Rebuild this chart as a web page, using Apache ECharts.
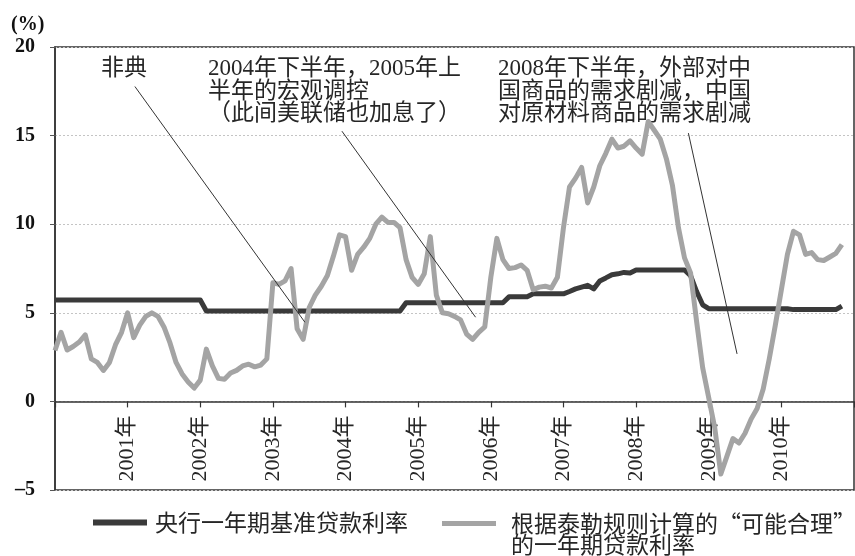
<!DOCTYPE html>
<html><head><meta charset="utf-8">
<script src="https://cdn.jsdelivr.net/npm/echarts@6/dist/echarts.min.js"></script>
<style>html,body{margin:0;padding:0;background:#fff}#c{width:855px;height:556px}</style>
</head><body><div id="c"></div>
<script>
// ---- data (monthly, starting 2000-01) ----
const startYear = 2000;
const seriesNames = ['央行一年期基准贷款利率', '根据泰勒规则计算的“可能合理”\n的一年期贷款利率'];
const pbocRate = [
 5.72,5.72,5.72,5.72,5.72,5.72,5.72,5.72,5.72,5.72,
 5.72,5.72,5.72,5.72,5.72,5.72,5.72,5.72,5.72,5.72,
 5.72,5.72,5.72,5.72,5.72,5.1,5.1,5.1,5.1,5.1,
 5.1,5.1,5.1,5.1,5.1,5.1,5.1,5.1,5.1,5.1,
 5.1,5.1,5.1,5.1,5.1,5.1,5.1,5.1,5.1,5.1,
 5.1,5.1,5.1,5.1,5.1,5.1,5.1,5.1,5.57,5.57,
 5.57,5.57,5.57,5.57,5.57,5.57,5.57,5.57,5.57,5.57,
 5.57,5.57,5.57,5.57,5.57,5.9,5.9,5.9,5.9,6.07,
 6.07,6.07,6.07,6.07,6.07,6.2,6.35,6.45,6.55,6.35,
 6.8,6.97,7.15,7.2,7.28,7.25,7.42,7.42,7.42,7.42,
 7.42,7.42,7.42,7.42,7.42,7.1,6.2,5.45,5.23,5.23,
 5.23,5.23,5.23,5.23,5.23,5.23,5.23,5.23,5.23,5.23,
 5.23,5.23,5.18,5.18,5.18,5.18,5.18,5.18,5.18,5.18,
 5.38
];
const taylorRate = [
 2.87,3.9,2.9,3.1,3.35,3.75,2.4,2.2,1.75,2.2,
 3.2,3.9,5.0,3.6,4.3,4.8,5.0,4.8,4.2,3.3,
 2.2,1.55,1.1,0.75,1.2,2.95,2.0,1.3,1.25,1.6,
 1.75,2.0,2.1,1.95,2.05,2.4,6.7,6.6,6.8,7.5,
 4.1,3.5,5.3,6.0,6.5,7.1,8.2,9.4,9.3,7.4,
 8.3,8.7,9.2,10.0,10.4,10.1,10.1,9.8,8.0,7.0,
 6.6,7.2,9.3,6.0,5.0,4.95,4.8,4.6,3.8,3.5,
 3.9,4.2,7.0,9.2,8.0,7.5,7.55,7.7,7.4,6.3,
 6.45,6.5,6.4,7.0,9.8,12.1,12.6,13.2,11.2,12.1,
 13.3,14.0,14.8,14.3,14.4,14.7,14.3,13.95,15.8,15.3,
 14.8,13.7,12.2,9.8,8.1,7.25,4.5,1.9,0.2,-1.5,
 -4.1,-3.1,-2.1,-2.35,-1.8,-1.0,-0.4,0.7,2.4,4.3,
 6.3,8.3,9.6,9.4,8.3,8.4,8.0,7.95,8.15,8.35,
 8.85
];
const yTicks = [-5, 0, 5, 10, 15, 20];
const yearLabels = [2001,2002,2003,2004,2005,2006,2007,2008,2009,2010];
// annotation pointer lines in data space: [[year, value], [year, value]]
const pointerLines = [
 [[2001.10, 17.77], [2003.44, 4.47]],
 [[2003.95, 15.25], [2005.79, 4.75]],
 [[2008.72, 15.14], [2009.39, 2.68]]
];
const annoTexts = [
 '非典',
 '2004年下半年，2005年上\n半年的宏观调控\n（此间美联储也加息了）',
 '2008年下半年，外部对中\n国商品的需求剧减，中国\n对原材料商品的需求剧减'
];

// ---- build ----
const FONT = "'Liberation Serif','Noto Sans CJK SC',serif";
const CJK = "'Noto Sans CJK SC','Liberation Serif',sans-serif";
const toPairs = arr => arr.map((v, i) => [startYear + i / 12, v]);
const chart = echarts.init(document.getElementById('c'), null, {renderer: 'canvas'});
const TXT = '#262626';
const GRID = {left: 55, right: 1, top: 47, bottom: 66};
const plotH = 556 - GRID.top - GRID.bottom;
const yMin = yTicks[0], yMax = yTicks[yTicks.length - 1];
// move the year axis up to the value 0
const zeroOffset = -plotH * (0 - yMin) / (yMax - yMin);

chart.setOption({
  animation: false,
  backgroundColor: '#fff',
  grid: Object.assign({show: true, borderColor: '#333', borderWidth: 1.5, backgroundColor: 'transparent',
    outerBoundsMode: 'none', containLabel: false}, GRID),
  xAxis: {
    type: 'value', min: 2000, max: 2011, interval: 1, position: 'bottom', offset: zeroOffset,
    axisLine: {onZero: false, lineStyle: {color: '#333', width: 1.5}},
    axisTick: {show: true, length: 6, lineStyle: {color: '#333', width: 1.2}},
    axisLabel: {rotate: 90, margin: 14, fontSize: 22, fontFamily: FONT, color: TXT,
      formatter: v => yearLabels.includes(v) ? v + '年' : ''},
    splitLine: {show: false}
  },
  yAxis: {
    type: 'value', min: yMin, max: yMax, interval: 5,
    axisLine: {show: true, onZero: false, lineStyle: {color: '#333', width: 1.5}},
    axisTick: {show: true, length: 5, lineStyle: {color: '#555'}},
    axisLabel: {margin: 20, fontSize: 20, fontWeight: 'bold', fontFamily: FONT, color: '#111',
      padding: [4, 0, 0, 0],
      formatter: v => yTicks.includes(v) ? String(v).replace('-', '–') : ''},
    splitLine: {show: true, lineStyle: {color: '#c4c4c4', width: 1, type: [2, 2]}}
  },
  legend: [
    {data: [seriesNames[0]], left: 93, top: 511, padding: 0, icon: 'rect', itemWidth: 54, itemHeight: 6,
     textStyle: {fontSize: 23, fontFamily: CJK, color: TXT, padding: [0, 0, 0, 3]}},
    {data: [seriesNames[1]], left: 442, top: 491, padding: 0, icon: 'rect', itemWidth: 54, itemHeight: 5,
     formatter: n => ' \n' + n,
     textStyle: {fontSize: 23, lineHeight: 21, fontFamily: CJK, color: TXT, padding: [0, 0, 0, 10]}}
  ],
  series: [
    {name: seriesNames[0], type: 'line', data: toPairs(pbocRate), showSymbol: false, symbol: 'none',
     lineStyle: {color: '#3a3a3a', width: 5, join: 'round'}, itemStyle: {color: '#3a3a3a'}, z: 3},
    {name: seriesNames[1], type: 'line', data: toPairs(taylorRate), showSymbol: false, symbol: 'none',
     lineStyle: {color: '#a4a4a4', width: 5, join: 'round'}, itemStyle: {color: '#a4a4a4'}, z: 4,
     markLine: {silent: true, symbol: ['none', 'none'], label: {show: false},
       lineStyle: {color: '#333', width: 1, type: 'solid'},
       emphasis: {disabled: true},
       data: pointerLines.map(p => [{coord: p[0]}, {coord: p[1]}])}}
  ],
  graphic: [
    {type: 'text', left: 11, top: 15, style: {text: '(%)', font: "bold 20px 'Liberation Serif', serif", fill: '#111'}},
    {type: 'text', x: 101, y: 58, style: {text: annoTexts[0], fontSize: 23, fontFamily: FONT, fill: TXT, lineHeight: 22.5, verticalAlign: 'top'}},
    {type: 'text', x: 208, y: 58, style: {text: annoTexts[1], fontSize: 23, fontFamily: FONT, fill: TXT, lineHeight: 22.5, verticalAlign: 'top'}},
    {type: 'text', x: 498, y: 58, style: {text: annoTexts[2], fontSize: 23, fontFamily: FONT, fill: TXT, lineHeight: 22.5, verticalAlign: 'top'}}
  ]
});
</script>
</body></html>
